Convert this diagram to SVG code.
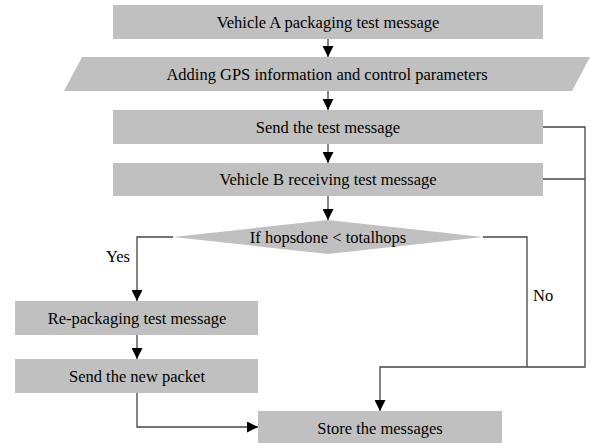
<svg xmlns="http://www.w3.org/2000/svg" width="590" height="443" viewBox="0 0 590 443">
<style>
.box{fill:#c0c0c0;stroke:none}
.t{font-family:"Liberation Serif","Times New Roman",serif;font-size:16.5px;fill:#000;text-anchor:middle}
.lbl{font-family:"Liberation Serif","Times New Roman",serif;font-size:16.5px;fill:#000}
.c{fill:none;stroke:#444;stroke-width:1.3}
</style>
<defs>
<marker id="ah" markerUnits="userSpaceOnUse" markerWidth="12" markerHeight="11" refX="11" refY="5.5" orient="auto">
<path d="M0,0 L11,5.5 L0,11 Z" fill="#000"/>
</marker>
</defs>
<rect width="590" height="443" fill="#fff"/>
<g id="n1"><rect class="box" x="113" y="5" width="430" height="34"/><text class="t" x="328" y="28">Vehicle A packaging test message</text></g>
<g id="n2"><polygon class="box" points="82,57 590,57 572,91 64,91"/><text class="t" x="327" y="80">Adding GPS information and control parameters</text></g>
<g id="n3"><rect class="box" x="113" y="110" width="430" height="34"/><text class="t" x="328" y="133">Send the test message</text></g>
<g id="n4"><rect class="box" x="113" y="163" width="430" height="33"/><text class="t" x="328" y="185">Vehicle B receiving test message</text></g>
<g id="n5"><polygon class="box" points="328,220 483,237 328,254 173,237"/><text class="t" x="328" y="243">If hopsdone &lt; totalhops</text></g>
<g id="n6"><rect class="box" x="15" y="301" width="243" height="34"/><text class="t" x="137" y="324">Re-packaging test message</text></g>
<g id="n7"><rect class="box" x="15" y="359" width="243" height="34"/><text class="t" x="137" y="382">Send the new packet</text></g>
<g id="n8"><rect class="box" x="258" y="411" width="244" height="34"/><text class="t" x="380" y="434">Store the messages</text></g>
<g id="connectors">
<path class="c" d="M328,39 V57" marker-end="url(#ah)"/>
<path class="c" d="M328,91 V110" marker-end="url(#ah)"/>
<path class="c" d="M328,144 V163" marker-end="url(#ah)"/>
<path class="c" d="M328,196 V220" marker-end="url(#ah)"/>
<path class="c" d="M173,237 H137 V301" marker-end="url(#ah)"/>
<path class="c" d="M137,335 V359" marker-end="url(#ah)"/>
<path class="c" d="M137,393 V427 H258" marker-end="url(#ah)"/>
<path class="c" d="M483,237 H527 V367"/>
<path class="c" d="M543,127 H585 V367 H380 V411" marker-end="url(#ah)"/>
<path class="c" d="M543,179 H585"/>
<text class="lbl" x="118" y="262" text-anchor="middle">Yes</text>
<text class="lbl" x="533" y="301">No</text>
</g>
</svg>
